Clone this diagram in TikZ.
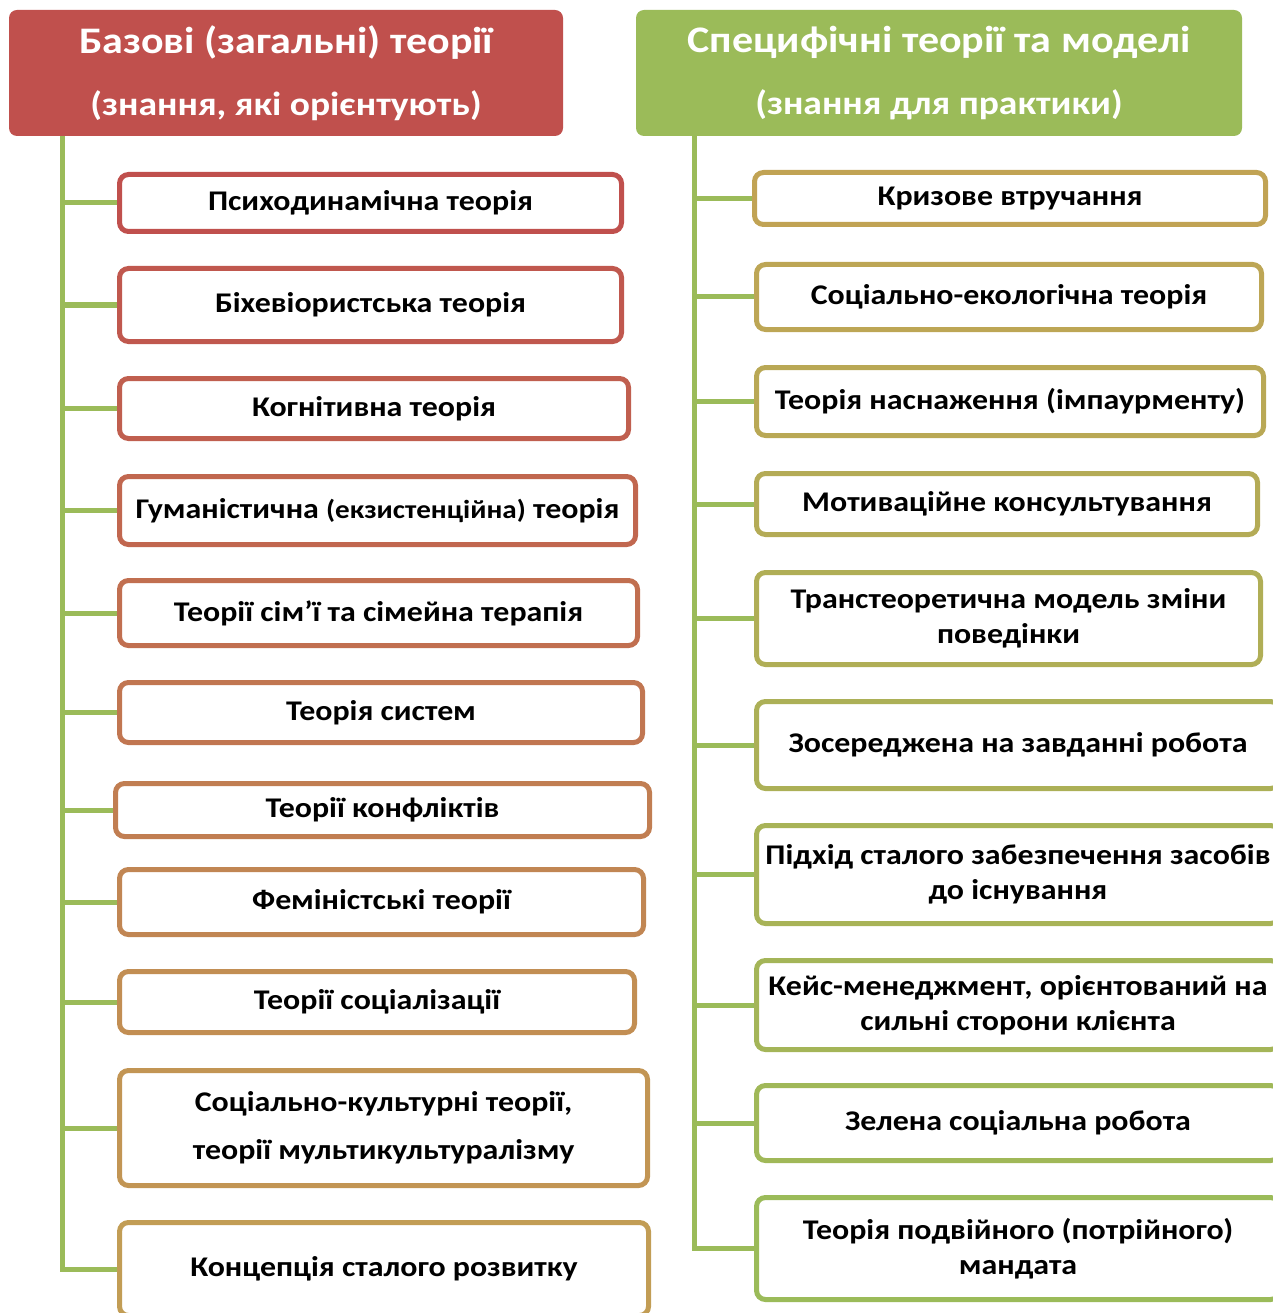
\documentclass[tikz,border=0pt]{standalone}
\usepackage{fontspec}
\setmainfont{Carlito}[FakeStretch=1.12]
\usepackage{xcolor}
\usepackage{tikz}
\usetikzlibrary{positioning, calc}

\definecolor{hdrred}{RGB}{192,80,77}
\definecolor{hdrgreen}{RGB}{155,187,89}
\definecolor{tanleft}{RGB}{194,157,85}
\definecolor{tanright}{RGB}{193,163,84}

\newcommand{\subhead}{\fontsize{33.5}{61}\selectfont}

\begin{document}
\begin{tikzpicture}[x=1pt, y=-1pt, every node/.style={font=\bfseries\fontsize{28.5}{35}\selectfont}]
    \tikzstyle{head}=[rectangle, rounded corners=8pt, inner sep=0pt, text=white, align=center, font=\bfseries\fontsize{37.5}{61}\selectfont]
    \tikzstyle{theory}=[rectangle, draw, line width=5pt, rounded corners=9pt, fill=white, inner sep=0pt, align=center]
    \tikzstyle{link}=[draw=hdrgreen, line width=5pt]

    \useasboundingbox (0,0) rectangle (1272,1313);

    % headers
    \node[head, fill=hdrred, minimum width=554pt, minimum height=126pt] (basic) at (286,73) {Базові (загальні) теорії\\[1pt]{\subhead(знання, які орієнтують)}};
    \node[head, fill=hdrgreen, minimum width=606pt, minimum height=126pt] (specific) at (939,73) {Специфічні теорії та моделі\\[1pt]{\subhead(знання для практики)}};

    % basic theories
    \node[theory, draw=hdrred, minimum width=502pt, minimum height=57pt] (psy) at (370.5,203) {Психодинамічна теорія};
    \node[theory, draw=tanleft!10!hdrred, minimum width=502pt, minimum height=73pt] (beh) at (370.5,305) {Біхевіористська теорія};
    \node[theory, draw=tanleft!20!hdrred, minimum width=509pt, minimum height=60pt] (cog) at (374,408.5) {Когнітивна теорія};
    \node[theory, draw=tanleft!30!hdrred, minimum width=516pt, minimum height=68pt] (hum) at (377.5,510.5) {Гуманістична {\fontsize{26}{35}\selectfont(екзистенційна)} теорія};
    \node[theory, draw=tanleft!40!hdrred, minimum width=518pt, minimum height=65pt] (fam) at (378.5,613) {Теорії сім’ї та сімейна терапія};
    \node[theory, draw=tanleft!50!hdrred, minimum width=523pt, minimum height=60pt] (sys) at (381,712.5) {Теорія систем};
    \node[theory, draw=tanleft!60!hdrred, minimum width=534pt, minimum height=53pt] (conf) at (382.5,810) {Теорії конфліктів};
    \node[theory, draw=tanleft!70!hdrred, minimum width=524pt, minimum height=65pt] (fem) at (381.5,902) {Феміністські теорії};
    \node[theory, draw=tanleft!80!hdrred, minimum width=515pt, minimum height=61pt] (soc) at (377,1002) {Теорії соціалізації};
    \node[theory, draw=tanleft!90!hdrred, minimum width=528pt, minimum height=115pt] (cult) at (383.5,1128) {Соціально-культурні теорії,\\[13pt]теорії мультикультуралізму};
    \node[theory, draw=tanleft, minimum width=529pt, minimum height=93pt] (sust) at (384,1269) {Концепція сталого розвитку};

    % specific theories and models
    \node[theory, draw=tanright, minimum width=511pt, minimum height=52pt] (crisis) at (1010,198.5) {Кризове втручання};
    \node[theory, draw=hdrgreen!11!tanright, minimum width=505pt, minimum height=65pt] (eco) at (1009,297) {Соціально-екологічна теорія};
    \node[theory, draw=hdrgreen!22!tanright, minimum width=507pt, minimum height=68pt] (emp) at (1010,401.5) {Теорія наснаження (імпаурменту)};
    \node[theory, draw=hdrgreen!33!tanright, minimum width=501pt, minimum height=61pt] (mot) at (1007,504) {Мотиваційне консультування};
    \node[theory, draw=hdrgreen!44!tanright, minimum width=504pt, minimum height=92pt] (trans) at (1008.5,618.5) {Транстеоретична модель зміни\\поведінки};
    \node[theory, draw=hdrgreen!55!tanright, minimum width=523pt, minimum height=87pt] (task) at (1018,745) {Зосереджена на завданні робота};
    \node[theory, draw=hdrgreen!66!tanright, minimum width=523pt, minimum height=98pt] (live) at (1018,874.5) {Підхід сталого забезпечення засобів\\до існування};
    \node[theory, draw=hdrgreen!77!tanright, minimum width=523pt, minimum height=89pt] (case) at (1018,1005) {Кейс-менеджмент, орієнтований на\\сильні сторони клієнта};
    \node[theory, draw=hdrgreen!88!tanright, minimum width=523pt, minimum height=75pt] (green) at (1018,1123) {Зелена соціальна робота};
    \node[theory, draw=hdrgreen, minimum width=523pt, minimum height=102pt] (mand) at (1018,1248.5) {Теорія подвійного (потрійного)\\мандата};

    \coordinate (lbus) at (62,136);
    \coordinate (rbus) at (694,136);

    % left tree
    \draw[link] (lbus) |- (sust.west);
    \draw[link] (lbus |- psy.west) -- (psy.west);
    \draw[link] (lbus |- beh.west) -- (beh.west);
    \draw[link] (lbus |- cog.west) -- (cog.west);
    \draw[link] (lbus |- hum.west) -- (hum.west);
    \draw[link] (lbus |- fam.west) -- (fam.west);
    \draw[link] (lbus |- sys.west) -- (sys.west);
    \draw[link] (lbus |- conf.west) -- (conf.west);
    \draw[link] (lbus |- fem.west) -- (fem.west);
    \draw[link] (lbus |- soc.west) -- (soc.west);
    \draw[link] (lbus |- cult.west) -- (cult.west);

    % right tree
    \draw[link] (rbus) |- (mand.west);
    \draw[link] (rbus |- crisis.west) -- (crisis.west);
    \draw[link] (rbus |- eco.west) -- (eco.west);
    \draw[link] (rbus |- emp.west) -- (emp.west);
    \draw[link] (rbus |- mot.west) -- (mot.west);
    \draw[link] (rbus |- trans.west) -- (trans.west);
    \draw[link] (rbus |- task.west) -- (task.west);
    \draw[link] (rbus |- live.west) -- (live.west);
    \draw[link] (rbus |- case.west) -- (case.west);
    \draw[link] (rbus |- green.west) -- (green.west);
\end{tikzpicture}
\end{document}
